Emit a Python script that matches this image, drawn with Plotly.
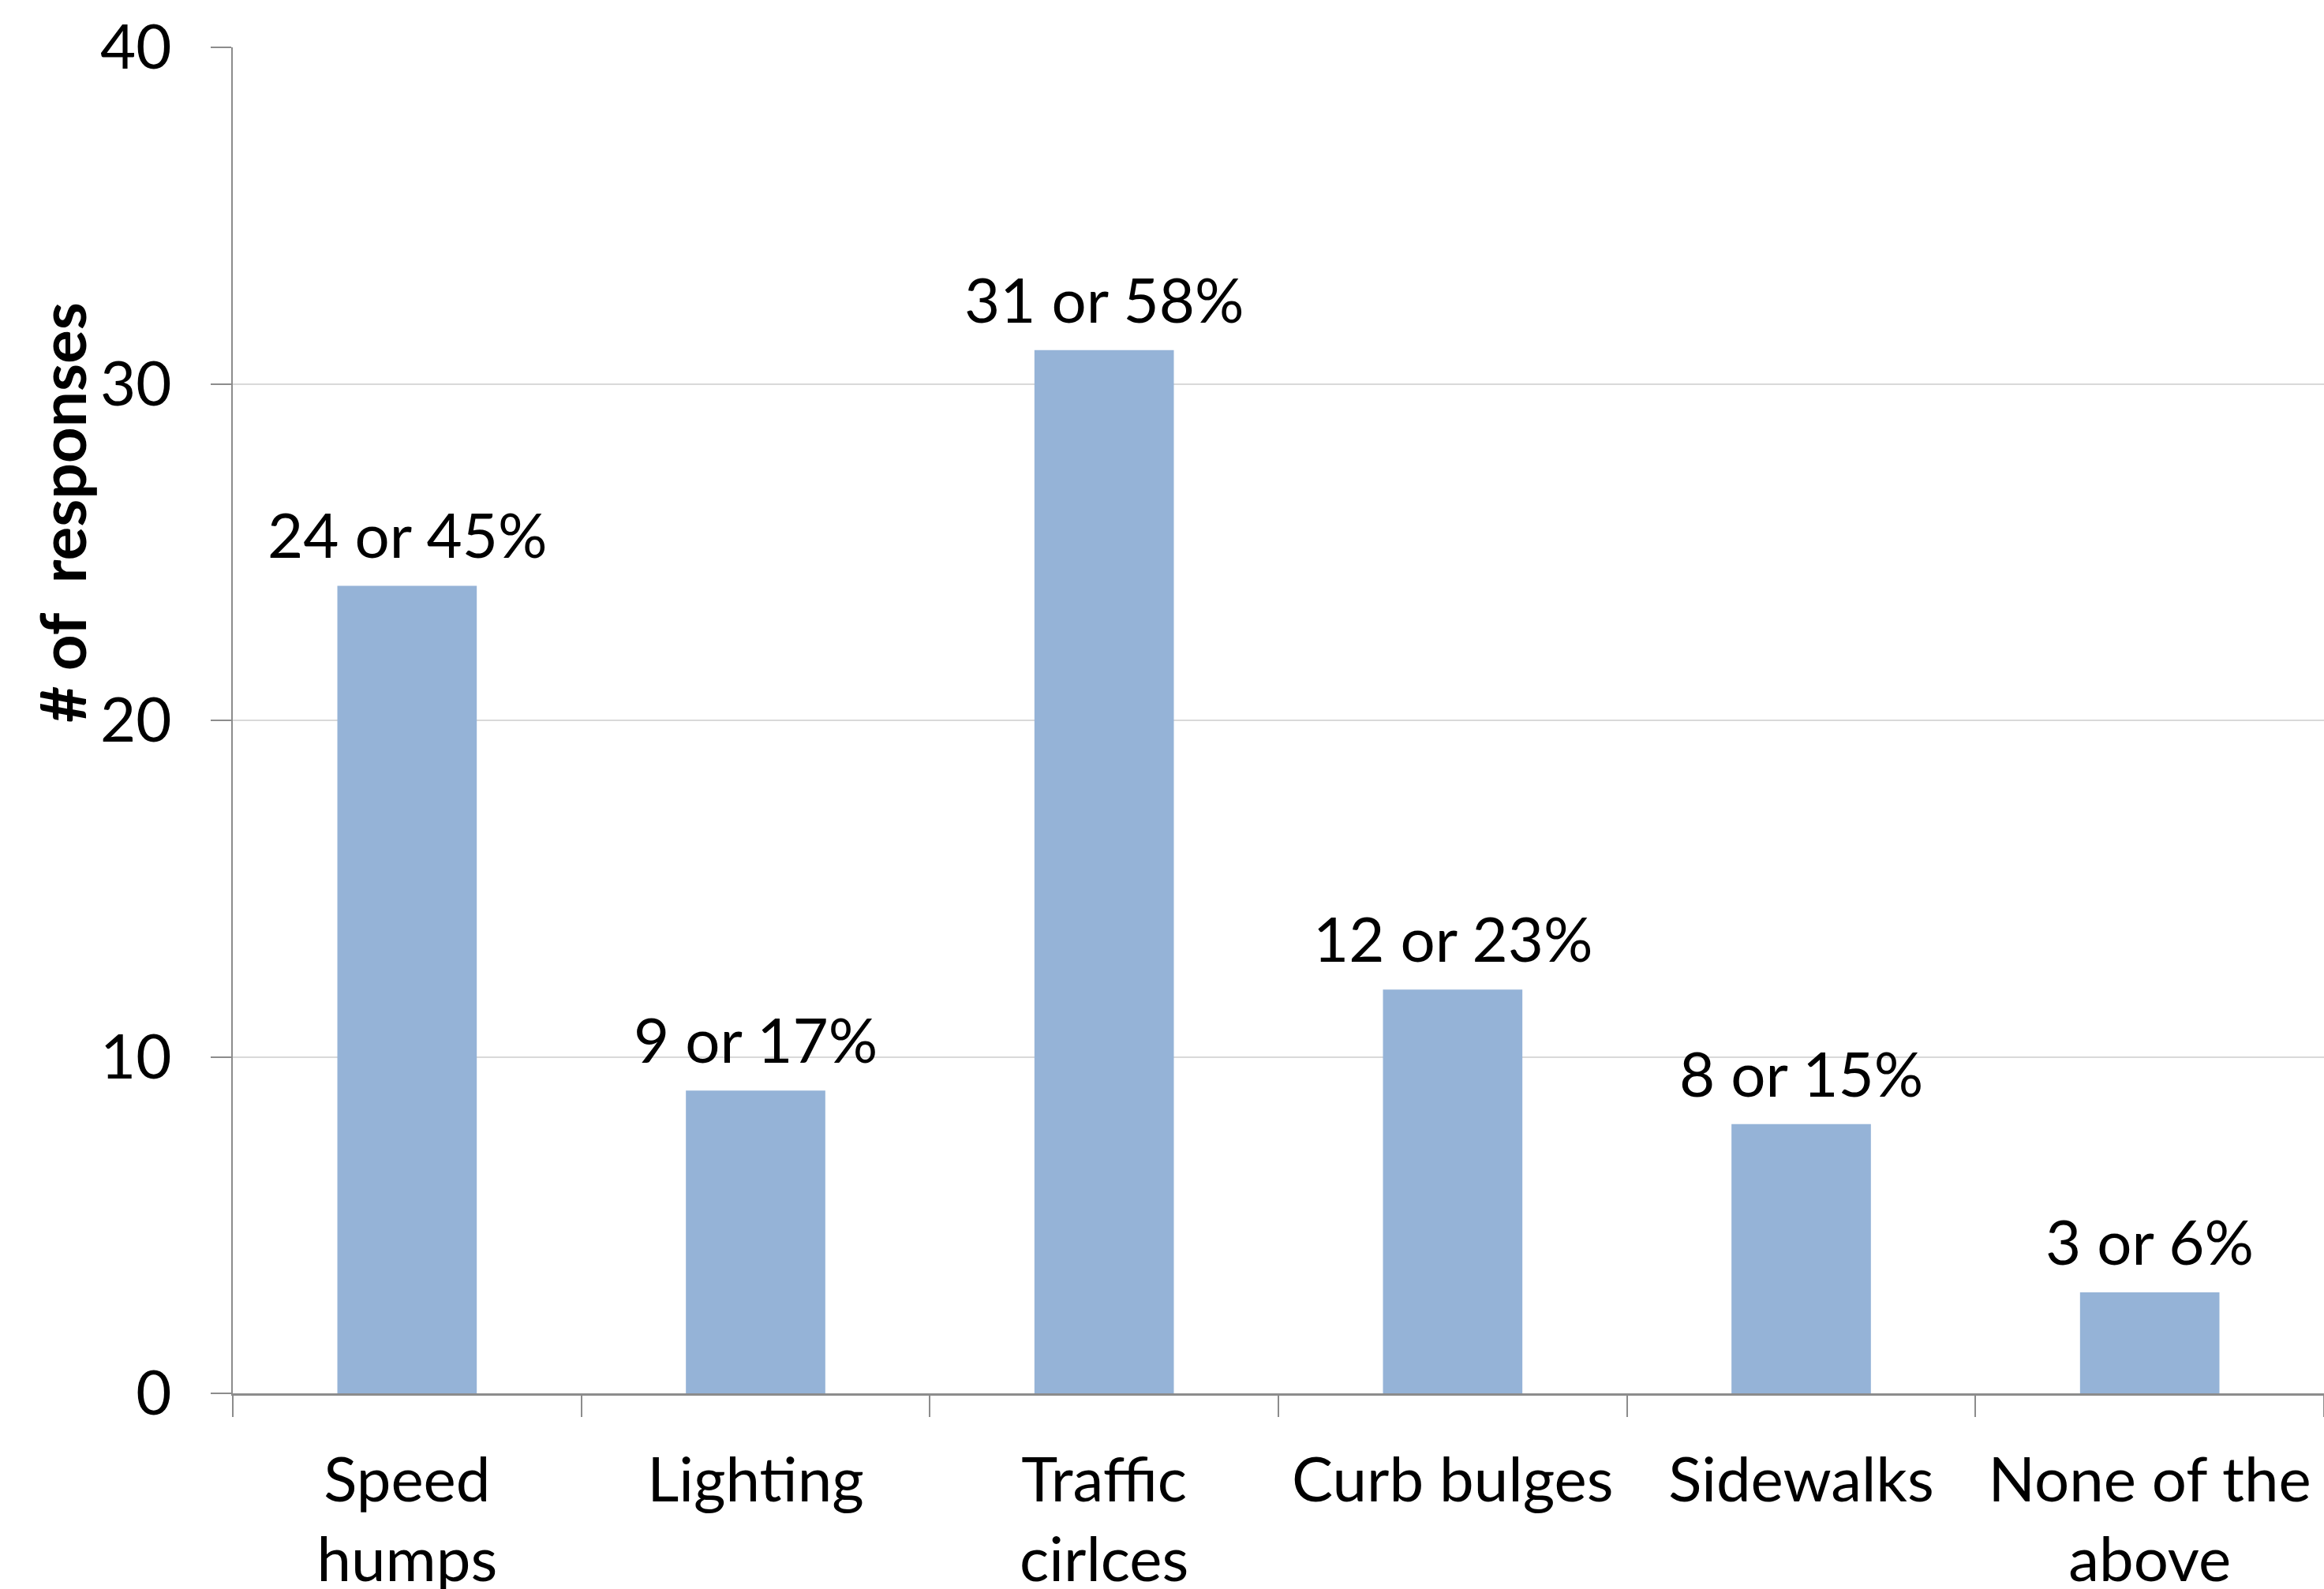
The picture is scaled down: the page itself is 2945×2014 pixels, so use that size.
import plotly.graph_objects as go

categories = ["Speed<br>humps", "Lighting", "Traffic<br>cirlces", "Curb bulges", "Sidewalks", "None of the<br>above"]
responses = [24, 9, 31, 12, 8, 3]
labels = ["24 or 45%", "9 or 17%", "31 or 58%", "12 or 23%", "8 or 15%", "3 or 6%"]
y_ticks = [0, 10, 20, 30, 40]

FONT = "Lato"
BAR = "#95B3D7"
AXIS = "#8C8C8C"
GRID = "#D9D9D9"

fig = go.Figure()
fig.add_trace(go.Bar(
    x=categories, y=responses, width=0.4,
    marker=dict(color=BAR, line=dict(width=0)),
    hoverinfo="skip",
))

for c, v, t in zip(categories, responses, labels):
    fig.add_annotation(
        x=c, y=v, xref="x", yref="y", text=t, showarrow=False,
        yanchor="bottom", xanchor="center", yshift=16,
        font=dict(family=FONT, size=78, color="#000000"),
    )

fig.add_annotation(
    xref="paper", yref="paper",
    x=(78 - 295) / 2650, y=(1766 - 650) / 1706,
    text="# of\u00a0 responses", textangle=-90, showarrow=False,
    xanchor="center", yanchor="middle",
    font=dict(family=FONT, size=80, color="#000000", weight="bold"),
)

fig.update_layout(
    width=2945, height=2014,
    margin=dict(l=295, r=0, t=60, b=248),
    paper_bgcolor="white", plot_bgcolor="white",
    showlegend=False, bargap=0.6,
    font=dict(family=FONT, size=78, color="#000000"),
)
fig.update_xaxes(
    type="category", tickson="boundaries", ticks="outside", ticklen=27,
    tickwidth=2, tickcolor=AXIS, showline=True, linecolor=AXIS, linewidth=3,
    showgrid=False, tickfont=dict(family=FONT, size=78, color="#000000"),
    ticklabelstandoff=40, automargin=False,
)
fig.update_yaxes(
    range=[0, 40], tickvals=y_ticks, ticks="outside", ticklen=26,
    tickwidth=2, tickcolor=AXIS, showline=True, linecolor=AXIS, linewidth=2,
    showgrid=True, gridcolor=GRID, gridwidth=2, zeroline=False,
    tickfont=dict(family=FONT, size=78, color="#000000"),
    ticklabelstandoff=34, automargin=False,
)

fig.write_html("out.html")
